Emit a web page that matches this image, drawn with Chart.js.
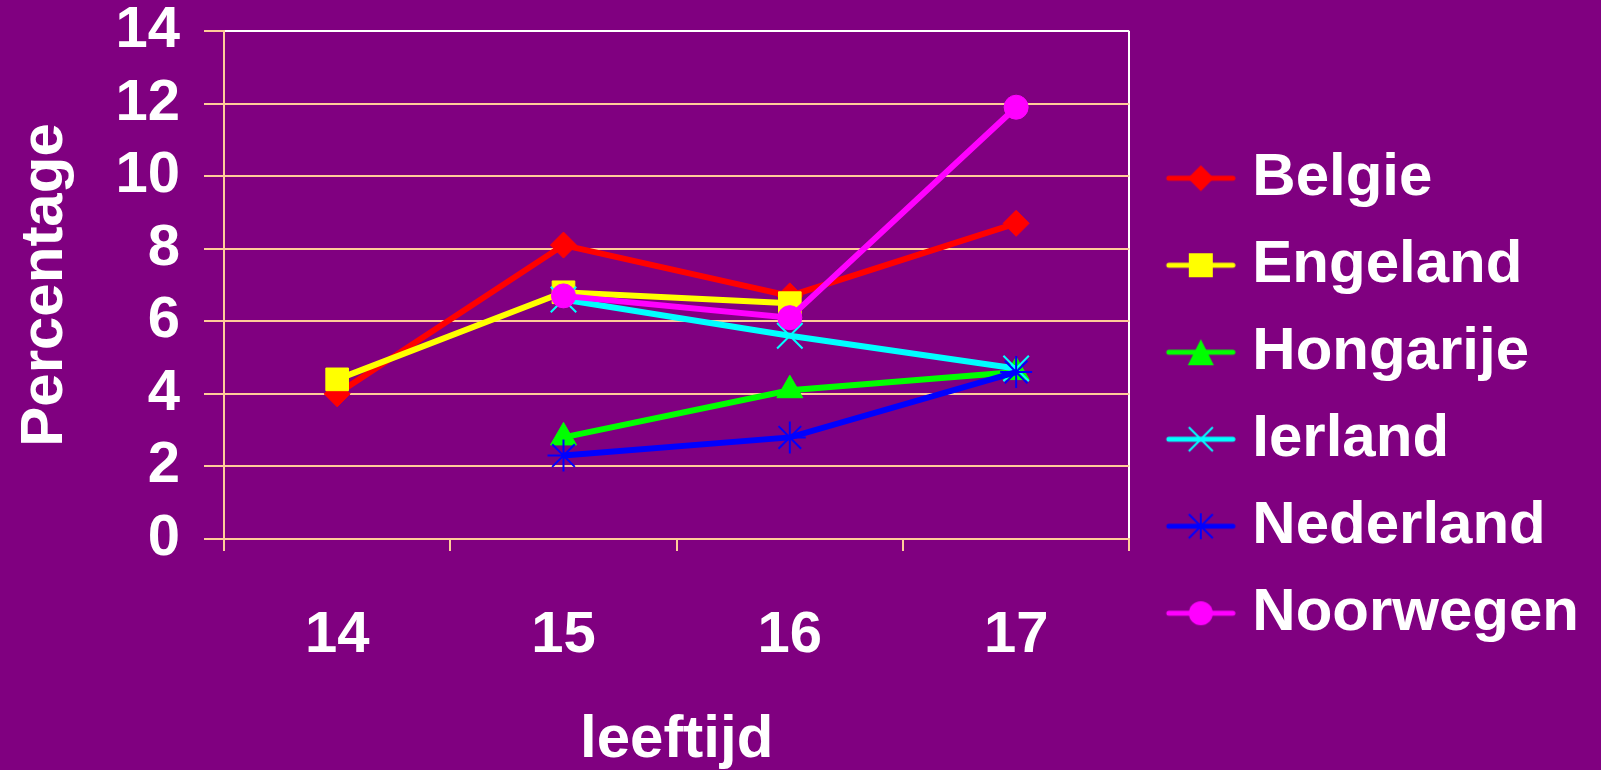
<!DOCTYPE html>
<html>
<head>
<meta charset="utf-8">
<script src="https://cdn.jsdelivr.net/npm/chart.js@4.4.1/dist/chart.umd.min.js"></script>
<style>
  html, body { margin: 0; padding: 0; background: #800080; overflow: hidden; }
  #wrap { width: 1601px; height: 770px; }
</style>
</head>
<body>
<div id="wrap"><canvas id="grafiek"></canvas></div>
<script>
// categorieen en waarden (percentage per leeftijd)
const leeftijden = ["14", "15", "16", "17"];
const landen = ["Belgie", "Engeland", "Hongarije", "Ierland", "Nederland", "Noorwegen"];
const belgie    = [4.0, 8.1, 6.7, 8.7];
const engeland  = [4.4, 6.8, 6.5, null];
const hongarije = [null, 2.8, 4.1, 4.6];
const ierland   = [null, 6.6, 5.6, 4.7];
const nederland = [null, 2.3, 2.8, 4.6];
const noorwegen = [null, 6.7, 6.1, 11.9];
const yTicks = [0, 2, 4, 6, 8, 10, 12, 14];

const kleuren = ["#ff0000", "#ffff00", "#00ff00", "#00ffff", "#0000ff", "#ff00ff"];
const vormen  = ["rectRot", "rect", "triangle", "crossRot", "star", "circle"];
const radii   = [13, 16, 15, 18, 16, 12];
const reeksen = [belgie, engeland, hongarije, ierland, nederland, noorwegen];

const PERZIK = "#ffcc99";
const FONT = "'Liberation Sans', Arial, sans-serif";

// legenda-symbool: lijntje met marker, zoals in Excel
function legendaPlaatje(kleur, vorm) {
    const c = document.createElement("canvas");
    c.width = 93; c.height = 30;
    const g = c.getContext("2d");
    g.strokeStyle = kleur; g.fillStyle = kleur;
    g.lineWidth = 5; g.lineCap = "round";
    g.beginPath(); g.moveTo(26, 15); g.lineTo(90, 15); g.stroke();
    const x = 58, y = 15;
    g.lineWidth = 2; g.lineCap = "butt";
    g.beginPath();
    if (vorm === "rectRot") {
        g.moveTo(x, y - 13); g.lineTo(x + 13, y); g.lineTo(x, y + 13); g.lineTo(x - 13, y); g.closePath(); g.fill();
    } else if (vorm === "rect") {
        g.fillRect(x - 12, y - 12, 24, 24);
    } else if (vorm === "triangle") {
        g.moveTo(x, y - 13); g.lineTo(x + 13, y + 13); g.lineTo(x - 13, y + 13); g.closePath(); g.fill();
    } else if (vorm === "crossRot") {
        g.moveTo(x - 12, y - 12); g.lineTo(x + 12, y + 12);
        g.moveTo(x + 12, y - 12); g.lineTo(x - 12, y + 12); g.stroke();
    } else if (vorm === "star") {
        g.moveTo(x - 12, y - 12); g.lineTo(x + 12, y + 12);
        g.moveTo(x + 12, y - 12); g.lineTo(x - 12, y + 12);
        g.moveTo(x, y - 13); g.lineTo(x, y + 13); g.stroke();
    } else {
        g.arc(x, y, 12, 0, Math.PI * 2); g.fill();
    }
    return c;
}

const plaatjes = kleuren.map((k, i) => legendaPlaatje(k, vormen[i]));

const datasets = reeksen.map((data, i) => ({
    label: landen[i],
    data: data,
    borderColor: kleuren[i],
    backgroundColor: kleuren[i],
    borderWidth: 6,
    pointStyle: vormen[i],
    pointRadius: radii[i],
    pointHoverRadius: radii[i],
    pointBorderWidth: (vormen[i] === "crossRot" || vormen[i] === "star") ? 2 : 1,
    order: landen.length - i,   // laatste reeks bovenop, zoals Excel
    tension: 0
}));

// legenda mag breder zijn dan de standaard helft-van-de-helft
const legendaBreed = {
    id: "legendaBreed",
    beforeLayout(chart) {
        const lg = chart.legend;
        if (lg && !lg._breed) {
            const orig = lg.update.bind(lg);
            lg.update = (mw, mh, m) => orig(Math.max(mw, 520), mh, m);
            lg._breed = true;
        }
    }
};

new Chart(document.getElementById("grafiek"), {
    type: "line",
    data: { labels: leeftijden, datasets: datasets },
    plugins: [legendaBreed],
    options: {
        responsive: true,
        maintainAspectRatio: false,
        animation: false,
        devicePixelRatio: 1,
        layout: { padding: { top: 31, left: 9, right: 12, bottom: 0 } },
        plugins: {
            tooltip: { enabled: false },
            legend: {
                position: "right",
                align: "start",
                title: {
                    display: true,
                    text: " ",
                    font: { size: 1 },
                    padding: { top: 0, bottom: 89 }
                },
                labels: {
                    color: "#ffffff",
                    font: { family: FONT, size: 60, weight: "bold" },
                    usePointStyle: true,
                    pointStyleWidth: 66,
                    padding: 27,
                    generateLabels: (chart) => chart.data.datasets.map((ds, i) => ({
                        text: ds.label,
                        fillStyle: ds.borderColor,
                        strokeStyle: ds.borderColor,
                        fontColor: "#ffffff",
                        lineWidth: 0,
                        pointStyle: plaatjes[i],
                        hidden: false,
                        datasetIndex: i
                    }))
                }
            }
        },
        scales: {
            x: {
                offset: true,
                grid: {
                    offset: true,
                    color: (ctx) => ctx.tick ? "transparent" : "#ffffff",
                    tickColor: PERZIK,
                    tickLength: 12,
                    lineWidth: 2
                },
                border: { color: PERZIK, width: 2 },
                ticks: {
                    color: "#ffffff",
                    font: { family: FONT, size: 58, weight: "bold" },
                    padding: 50,
                    maxRotation: 0
                },
                title: {
                    display: true,
                    text: "leeftijd",
                    color: "#ffffff",
                    font: { family: FONT, size: 60, weight: "bold" },
                    padding: { top: 40, bottom: -6 }
                },
                afterFit: (s) => { s.height = 231; }
            },
            y: {
                min: 0,
                max: 14,
                afterBuildTicks: (s) => { s.ticks = yTicks.map(v => ({ value: v })); },
                grid: {
                    color: (ctx) => (ctx.tick && ctx.tick.value === 14) ? "#ffffff" : PERZIK,
                    tickColor: PERZIK,
                    tickLength: 20,
                    lineWidth: 2
                },
                border: { color: PERZIK, width: 2 },
                ticks: {
                    color: "#ffffff",
                    font: { family: FONT, size: 58, weight: "bold", lineHeight: 1 },
                    padding: 24
                },
                title: {
                    display: true,
                    text: "Percentage",
                    color: "#ffffff",
                    font: { family: FONT, size: 60, weight: "bold" },
                    padding: { top: 0, bottom: 0 }
                },
                afterFit: (s) => {
                    s.width = 215;
                    s.paddingTop = 29;
                    s.paddingBottom = 29;
                }
            }
        }
    }
});
</script>
</body>
</html>
